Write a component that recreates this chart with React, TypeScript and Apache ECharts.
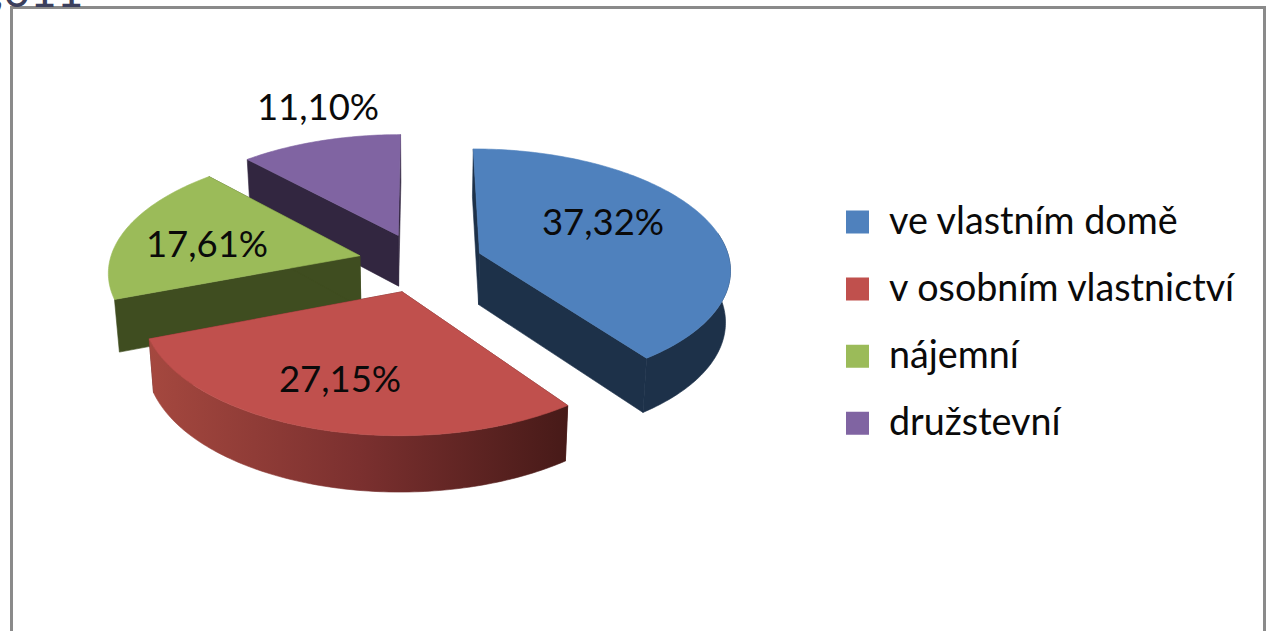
import React, { useEffect, useRef } from "react";
import * as echarts from "echarts";

const CATEGORIES = ["ve vlastním domě", "v osobním vlastnictví", "nájemní", "družstevní"];
const VALUES = [37.32, 27.15, 17.61, 11.1];
const VALUE_LABELS = ["37,32%", "27,15%", "17,61%", "11,10%"];

const TOP_COLORS = ["#4f81bd", "#c0504d", "#9bbb59", "#8064a2"];
const SIDE_COLORS = ["#1d3149", "#5a2220", "#3f4d20", "#322640"];
const SERIES_Z = [3, 4, 2, 1];
const LABEL_POS = [[603, 221], [340, 378], [207, 243], [318, 106]];

const FONT = "Lato";
const CX = 420.5, CY = 262.4, RX = 250.5, RY = 119, PERSP = 0.12, EXPLODE = 0.25;
const DEPTH = 51.5, DEPTH_PERSP = 0.07, BOTTOM_SCALE = 0.984;
const WALL_FROM = (80 * Math.PI) / 180;
// Square swatch sitting 6 units below a hair-thin top line, so the legend text lines up a little above it.
const LEGEND_ICON = "path://M0 0L23 0L23 0.01L0 0.01ZM0 6L23 6L23 29L0 29Z";

type P = [number, number];
const project = (u: number, v: number, bottom: boolean): P => {
  const w = 1 - PERSP * v;
  const x = (RX * u) / w;
  const y = (RY * v) / w;
  return bottom
    ? [CX + x * BOTTOM_SCALE, CY + y + DEPTH / (1 - DEPTH_PERSP * v)]
    : [CX + x, CY + y];
};

const total = VALUES.reduce((a, b) => a + b, 0);

const makeRender = (index: number) => (_params: any, api: any) => {
  const value = api.value(0);
  const before = VALUES.slice(0, index).reduce((a, b) => a + b, 0);
  const a0 = (before / total) * Math.PI * 2;
  const a1 = ((before + value) / total) * Math.PI * 2;
  const mid = (a0 + a1) / 2;
  const ou = EXPLODE * Math.sin(mid);
  const ov = -EXPLODE * Math.cos(mid);
  const rim = (from: number, to: number, bottom: boolean): P[] => {
    const pts: P[] = [];
    const steps = Math.max(2, Math.ceil((to - from) / (Math.PI / 180)));
    for (let i = 0; i <= steps; i++) {
      const t = from + ((to - from) * i) / steps;
      pts.push(project(ou + Math.sin(t), ov - Math.cos(t), bottom));
    }
    return pts;
  };
  const topRim = rim(a0, a1, false);
  const botRim = rim(a0, a1, true);
  const wallStart = Math.max(a0, WALL_FROM);
  const wallTop = rim(wallStart, a1, false);
  const wallBot = rim(wallStart, a1, true);
  const apexT = project(ou, ov, false);
  const apexB = project(ou, ov, true);
  const side = SIDE_COLORS[index];
  const wallFill =
    index === 1
      ? new echarts.graphic.LinearGradient(0, 0, 1, 0, [
          { offset: 0, color: "#a5483f" },
          { offset: 0.5, color: "#7b302f" },
          { offset: 1, color: "#471a18" },
        ])
      : side;
  const poly = (points: P[], fill: any) => ({
    type: "polygon",
    shape: { points },
    style: { fill, stroke: fill, lineWidth: 0.6 },
  });
  const hasWall = a0 < Math.PI;
  return {
    type: "group",
    children: [
      poly([apexT, topRim[0], botRim[0], apexB], side),
      poly([apexT, topRim[topRim.length - 1], botRim[botRim.length - 1], apexB], side),
      ...(hasWall ? [poly([...wallTop, ...wallBot.slice().reverse()], wallFill)] : []),
      poly([apexT, ...topRim], TOP_COLORS[index]),
      {
        type: "text",
        style: {
          text: VALUE_LABELS[index],
          x: LABEL_POS[index][0],
          y: LABEL_POS[index][1],
          fill: "#0a0a0a",
          fontFamily: FONT,
          fontSize: 36.5,
          align: "center",
          verticalAlign: "middle",
        },
      },
    ],
  };
};

export default function App() {
  const ref = useRef<HTMLDivElement>(null);
  useEffect(() => {
    const chart = echarts.init(ref.current!, undefined, { renderer: "svg" });
    chart.setOption({
      animation: false,
      backgroundColor: "#ffffff",
      legend: {
        orient: "vertical",
        left: 841,
        top: 195,
        itemWidth: 23,
        itemHeight: 29,
        itemGap: 29.1,
        icon: LEGEND_ICON,
        selectedMode: false,
        data: CATEGORIES.map((name, i) => ({ name, itemStyle: { color: TOP_COLORS[i] } })),
        textStyle: {
          fontFamily: FONT,
          fontSize: 37.7,
          color: "#0a0a0a",
          lineHeight: 23,
          padding: [0, 0, 0, 15],
        },
      },
      graphic: [
        {
          type: "rect",
          shape: { x: 11.5, y: 7.5, width: 1253, height: 640 },
          style: { fill: "none", stroke: "#8a8a8a", lineWidth: 3 },
          silent: true,
        },
        {
          type: "text",
          style: {
            text: ",011",
            x: -7,
            y: 12,
            fill: "#3b3f5c",
            fontFamily: FONT,
            fontSize: 46,
            verticalAlign: "bottom",
          },
          silent: true,
        },
      ],
      series: CATEGORIES.map((name, i) => ({
        type: "custom",
        name,
        coordinateSystem: "none",
        z: SERIES_Z[i],
        data: [VALUES[i]],
        itemStyle: { color: TOP_COLORS[i] },
        renderItem: makeRender(i),
      })),
    });
    return () => chart.dispose();
  }, []);
  return <div ref={ref} style={{ position: "fixed", left: 0, top: 0, width: 1266, height: 631 }} />;
}
